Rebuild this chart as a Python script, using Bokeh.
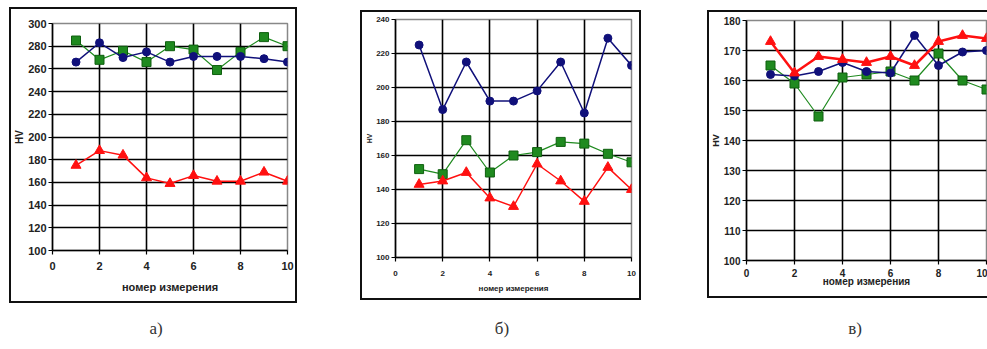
from bokeh.plotting import figure
from bokeh.models import Range1d, FixedTicker, Div
from bokeh.layouts import row, column
from bokeh.embed import file_html
from bokeh.resources import INLINE

# measurement number
x = [1, 2, 3, 4, 5, 6, 7, 8, 9, 10]
x_ticks = [0, 2, 4, 6, 8, 10]

# panel a
a_blue = [266, 283, 270, 275, 266, 271, 271, 271, 269, 266]
a_green = [285, 268, 276, 266, 280, 277, 259, 275, 288, 280]
a_red = [175, 188, 184, 164, 159, 166, 161, 161, 169, 161]
a_yticks = [100, 120, 140, 160, 180, 200, 220, 240, 260, 280, 300]

# panel b
b_blue = [225, 187, 215, 192, 192, 198, 215, 185, 229, 213]
b_green = [152, 149, 169, 150, 160, 162, 168, 167, 161, 156]
b_red = [143, 145, 150, 135, 130, 155, 145, 133, 153, 140]
b_yticks = [100, 120, 140, 160, 180, 200, 220, 240]

# panel c
c_blue = [162, 161.5, 163, 166, 163, 162.5, 175, 165, 169.5, 170]
c_green = [165, 159, 148, 161, 162, 163, 160, 169, 160, 157]
c_red = [173, 162.5, 168, 167, 166, 168, 165, 173, 175, 174]
c_yticks = [100, 110, 120, 130, 140, 150, 160, 170, 180]

x_title = "номер измерения"
y_title = "HV"
captions = ["а)", "б)", "в)"]

BLUE = "#10107a"
GREEN = "#1f8a1f"
GREEN_DARK = "#0f5f0f"
RED = "#ff1010"

TOP = 10      # common top border (rows align borders)
BOTTOM = 47   # common bottom border


def panel(w, plot_h, bl, br, yticks, blue, green, red, tick_fs, title_fs,
          margin, red_w=1.5, title_standoff=4, xlabel_standoff=3,
          ylabel_standoff=2):
    p = figure(width=w, height=TOP + plot_h + BOTTOM, output_backend="svg",
               toolbar_location=None,
               x_range=Range1d(0, 10), y_range=Range1d(yticks[0], yticks[-1]),
               min_border_left=bl, min_border_right=br, min_border_top=TOP,
               min_border_bottom=BOTTOM, margin=margin)
    p.background_fill_color = "white"
    p.border_fill_color = "white"
    p.outline_line_color = "#888888"
    p.outline_line_width = 1.5
    p.xaxis.ticker = FixedTicker(ticks=x_ticks)
    p.yaxis.ticker = FixedTicker(ticks=yticks)
    for g in (p.xgrid, p.ygrid):
        g.grid_line_color = "#000000"
        g.grid_line_width = 1.6
    for ax in (p.xaxis, p.yaxis):
        ax.axis_line_color = "#000000"
        ax.axis_line_width = 1.6
        ax.major_tick_line_color = "#000000"
        ax.major_tick_line_width = 1.2
        ax.major_tick_out = 4
        ax.major_tick_in = 0
        ax.minor_tick_line_color = None
        ax.major_label_text_font = "Liberation Sans"
        ax.major_label_text_font_style = "bold"
        ax.major_label_text_font_size = f"{tick_fs}px"
        ax.major_label_text_color = "#222222"
        ax.axis_label_text_font = "Liberation Sans"
        ax.axis_label_text_font_style = "bold"
        ax.axis_label_text_color = "#222222"
    p.xaxis.major_label_standoff = xlabel_standoff
    p.yaxis.major_label_standoff = ylabel_standoff
    p.xaxis.axis_label = x_title
    p.xaxis.axis_label_text_font_size = f"{title_fs}px"
    p.xaxis.axis_label_standoff = title_standoff
    p.yaxis.axis_label = y_title
    p.yaxis.axis_label_text_font_size = f"{title_fs - 1}px"
    p.yaxis.axis_label_standoff = 0

    p.line(x, green, line_color=GREEN, line_width=1.2)
    p.scatter(x, green, marker="square", size=9, fill_color=GREEN,
              line_color=GREEN_DARK, line_width=1)
    p.line(x, blue, line_color=BLUE, line_width=1.5)
    p.scatter(x, blue, marker="circle", size=8, fill_color=BLUE,
              line_color=BLUE)
    p.line(x, red, line_color=RED, line_width=red_w)
    p.scatter(x, red, marker="triangle", size=10, fill_color=RED,
              line_color=RED)
    return p


pa = panel(288, 227, 43, 10, a_yticks, a_blue, a_green, a_red,
           11, 11, (13, 0, 0, 9), title_standoff=8, xlabel_standoff=7)
pb = panel(281, 238, 35, 10, b_yticks, b_blue, b_green, b_red,
           8, 8, (9, 0, 0, 63), title_standoff=5, xlabel_standoff=9)
pc = panel(280, 240, 38, 1, c_yticks, c_blue, c_green, c_red,
           10, 10, (10, 0, 0, 66), red_w=2.5, title_standoff=-4,
           xlabel_standoff=4)


def frame_box(left, top, width, height, extra=""):
    return (f'<div style="position:fixed;left:{left}px;top:{top}px;'
            f'width:{width}px;height:{height}px;box-sizing:border-box;'
            f'border:2px solid #111;pointer-events:none;{extra}"></div>')


frames = (frame_box(9, 7, 288, 296)
          + frame_box(360, 10, 281, 290)
          + frame_box(707, 10, 280, 288, "border-right:none;"))

cap_style = {"font-family": "Liberation Serif", "font-size": "17px",
             "text-align": "center", "color": "#333333"}
d1 = Div(text=captions[0] + frames, width=312, styles=cap_style,
         margin=(10, 0, 0, 0))
d2 = Div(text=captions[1], width=380, styles=cap_style, margin=(10, 0, 0, 0))
d3 = Div(text=captions[2], width=250, styles=cap_style, margin=(10, 0, 0, 38))

layout = column(row(pa, pb, pc), row(d1, d2, d3))

open("out.html", "w").write(file_html(layout, INLINE))
